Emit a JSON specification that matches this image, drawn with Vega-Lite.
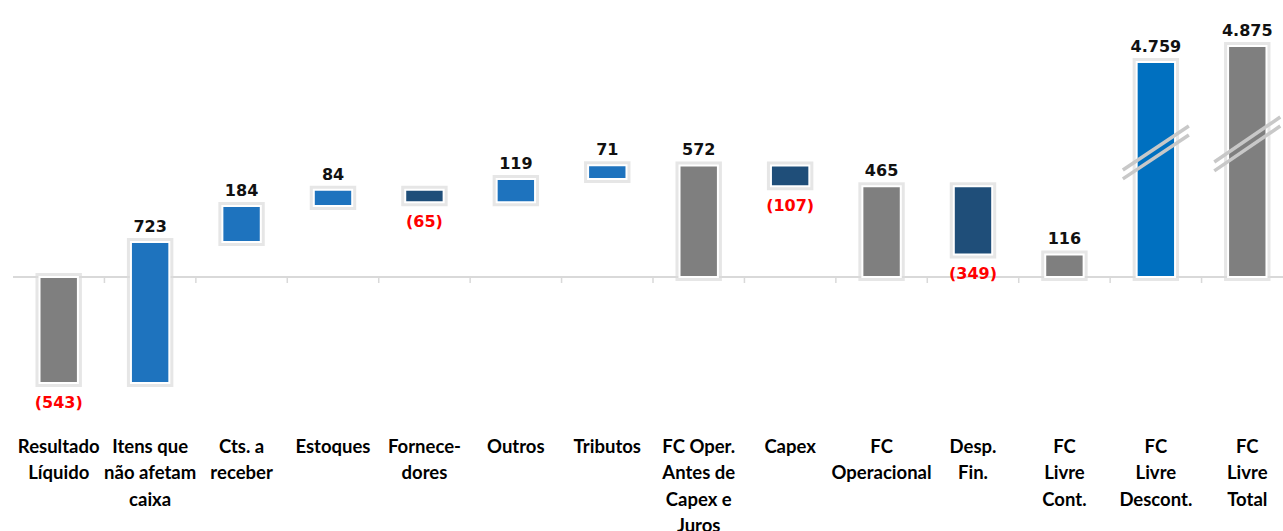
{
  "$schema": "https://vega.github.io/schema/vega-lite/v6.json",
  "autosize": "none",
  "padding": {"left": 13, "top": 0, "right": 0, "bottom": 95},
  "width": 1270,
  "height": 436,
  "background": "white",
  "config": {"view": {"stroke": null}},
  "datasets": {
    "main": [
      {"cat": "Resultado|Líquido", "start": 0, "end": -543, "kind": "total", "label": "(543)"},
      {"cat": "Itens que|não afetam|caixa", "start": -543, "end": 180, "kind": "up", "label": "723"},
      {"cat": "Cts. a|receber", "start": 180, "end": 364, "kind": "up", "label": "184"},
      {"cat": "Estoques", "start": 364, "end": 448, "kind": "up", "label": "84"},
      {"cat": "Fornece-|dores", "start": 448, "end": 383, "kind": "down", "label": "(65)"},
      {"cat": "Outros", "start": 383, "end": 502, "kind": "up", "label": "119"},
      {"cat": "Tributos", "start": 502, "end": 573, "kind": "up", "label": "71"},
      {"cat": "FC Oper.|Antes de|Capex e|Juros", "start": 0, "end": 572, "kind": "total", "label": "572"},
      {"cat": "Capex", "start": 572, "end": 465, "kind": "down", "label": "(107)"},
      {"cat": "FC|Operacional", "start": 0, "end": 465, "kind": "total", "label": "465"},
      {"cat": "Desp.|Fin.", "start": 465, "end": 116, "kind": "down", "label": "(349)"},
      {"cat": "FC|Livre|Cont.", "start": 0, "end": 116, "kind": "total", "label": "116"},
      {"cat": "FC|Livre|Descont.", "start": 0, "end": 4759, "kind": "bright", "label": "4.759"},
      {"cat": "FC|Livre|Total", "start": 0, "end": 4875, "kind": "total", "label": "4.875"}
    ],
    "breaks": [
      {"cat": "FC|Livre|Descont.", "v1": 549, "v2": 774},
      {"cat": "FC|Livre|Descont.", "v1": 503, "v2": 728},
      {"cat": "FC|Livre|Total", "v1": 590, "v2": 1068},
      {"cat": "FC|Livre|Total", "v1": 544, "v2": 774}
    ]
  },
  "encoding": {
    "x": {
      "field": "cat", "type": "nominal", "sort": null,
      "scale": {
        "type": "band", "paddingInner": 0, "paddingOuter": 0, "range": [0, 1280],
        "domain": ["Resultado|Líquido", "Itens que|não afetam|caixa", "Cts. a|receber", "Estoques", "Fornece-|dores", "Outros", "Tributos", "FC Oper.|Antes de|Capex e|Juros", "Capex", "FC|Operacional", "Desp.|Fin.", "FC|Livre|Cont.", "FC|Livre|Descont.", "FC|Livre|Total"]
      },
      "axis": {
        "title": null, "domain": false, "ticks": false, "labelAngle": 0,
        "labelExpr": "split(datum.value, '|')",
        "labelFont": "Lato", "labelFontSize": 18.5, "labelFontWeight": "bold", "labelColor": "#000000",
        "labelLineHeight": 26.5, "labelPadding": 1, "labelBaseline": "top", "labelLimit": 0,
        "labelOverlap": false
      }
    }
  },
  "layer": [
    {
      "data": {"name": "main"},
      "mark": {"type": "rule", "color": "#d9d9d9", "strokeWidth": 1.5},
      "encoding": {
        "x": null,
        "y": {"datum": 0, "type": "quantitative", "scale": {"domain": [-800, 800, 4759, 4875], "range": [433, 121, 62, 46], "nice": false, "zero": false}, "axis": null}
      }
    },
    {
      "data": {"name": "main"},
      "mark": {"type": "rule", "color": "#d9d9d9", "strokeWidth": 1.5, "y2Offset": 6},
      "encoding": {
        "x": {"field": "cat", "type": "nominal", "sort": null, "bandPosition": 1},
        "y": {"datum": 0, "type": "quantitative"},
        "y2": {"datum": 0}
      }
    },
    {
      "data": {"name": "main"},
      "mark": {"type": "bar", "fill": "#dcdcdc", "stroke": "#dcdcdc", "strokeWidth": 8, "strokeOpacity": 0.7, "width": {"band": 0.42}},
      "encoding": {
        "y": {"field": "start", "type": "quantitative"},
        "y2": {"field": "end"}
      }
    },
    {
      "data": {"name": "main"},
      "mark": {"type": "bar", "stroke": "white", "strokeWidth": 2, "width": {"band": 0.42}},
      "encoding": {
        "y": {"field": "start", "type": "quantitative"},
        "y2": {"field": "end"},
        "color": {
          "field": "kind", "type": "nominal", "legend": null,
          "scale": {"domain": ["total", "up", "down", "bright"], "range": ["#7f7f7f", "#1e73be", "#1f4e79", "#0070c0"]}
        }
      }
    },
    {
      "data": {"name": "main"},
      "transform": [{"filter": "datum.end >= datum.start"}],
      "mark": {"type": "text", "font": "DejaVu Sans", "fontWeight": "bold", "fontSize": 16, "baseline": "alphabetic", "dy": -10, "color": "#111111"},
      "encoding": {
        "y": {"field": "end", "type": "quantitative"},
        "text": {"field": "label"}
      }
    },
    {
      "data": {"name": "main"},
      "transform": [{"filter": "datum.end < datum.start"}],
      "mark": {"type": "text", "font": "DejaVu Sans", "fontWeight": "bold", "fontSize": 16, "baseline": "alphabetic", "dy": 25, "color": "#ff0000"},
      "encoding": {
        "y": {"field": "end", "type": "quantitative"},
        "text": {"field": "label"}
      }
    },
    {
      "data": {"name": "breaks"},
      "mark": {"type": "rule", "color": "#c8c8c8", "strokeWidth": 3.5, "xOffset": -33, "x2Offset": 33},
      "encoding": {
        "x2": {"field": "cat"},
        "y": {"field": "v1", "type": "quantitative"},
        "y2": {"field": "v2"}
      }
    }
  ]
}
